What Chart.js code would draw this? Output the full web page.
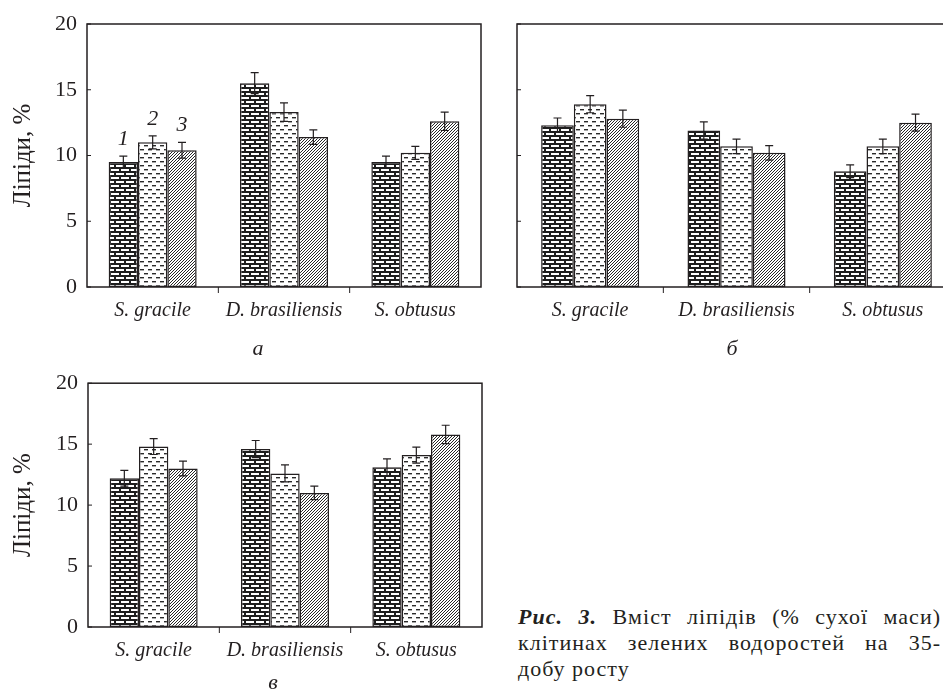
<!DOCTYPE html>
<html>
<head>
<meta charset="utf-8">
<script src="https://cdn.jsdelivr.net/npm/chart.js@4/dist/chart.umd.min.js"></script>
<style>
  body { margin: 0; width: 943px; height: 689px; overflow: hidden; background: #fff; position: relative;
         font-family: "Liberation Serif", "DejaVu Serif", serif; color: #231f20; }
  canvas { position: absolute; }
  .lbl { position: absolute; font-style: italic; font-size: 22px; transform: translate(-50%, -50%); }
  #caption { position: absolute; left: 518px; top: 604px; width: 423px; font-size: 22px; line-height: 26px; letter-spacing: 1px; }
  #caption .j { text-align: justify; text-align-last: justify; }
</style>
</head>
<body>
<canvas id="chartA" width="485" height="340" style="left:0;top:0"></canvas>
<canvas id="chartB" width="480" height="340" style="left:480px;top:0"></canvas>
<canvas id="chartC" width="485" height="329" style="left:0;top:360px"></canvas>
<div class="lbl" style="left:258px;top:348px">а</div>
<div class="lbl" style="left:732px;top:348px">б</div>
<div class="lbl" style="left:273px;top:682px">в</div>
<div id="caption">
  <div class="j"><b><i>Рис. 3.</i></b> Вміст ліпідів (% сухої маси)</div>
  <div class="j">клітинах зелених водоростей на 35-</div>
  <div>добу росту</div>
</div>
<script>
const categories = ['S. gracile', 'D. brasiliensis', 'S. obtusus'];
const seriesLabels = ['1', '2', '3'];
const yTitle = 'Ліпіди, %';

// panel а
const a1 = [9.5, 15.5, 9.5];
const a1Err = [0.45, 0.8, 0.45];
const a2 = [11.0, 13.3, 10.2];
const a2Err = [0.5, 0.7, 0.5];
const a3 = [10.4, 11.4, 12.6];
const a3Err = [0.6, 0.55, 0.7];

// panel б
const b1 = [12.3, 11.9, 8.8];
const b1Err = [0.55, 0.65, 0.48];
const b2 = [13.9, 10.7, 10.7];
const b2Err = [0.65, 0.55, 0.55];
const b3 = [12.8, 10.2, 12.5];
const b3Err = [0.65, 0.55, 0.65];

// panel в
const c1 = [12.2, 14.6, 13.1];
const c1Err = [0.65, 0.7, 0.7];
const c2 = [14.8, 12.6, 14.1];
const c2Err = [0.65, 0.7, 0.65];
const c3 = [13.0, 11.0, 15.8];
const c3Err = [0.6, 0.55, 0.75];

const ink = '#231f20';
const serif = '"Liberation Serif", "DejaVu Serif", serif';

// fill patterns: bricks, dashes, hatch
function makePattern(w, h, draw) {
  const c = document.createElement('canvas');
  c.width = w; c.height = h;
  const g = c.getContext('2d');
  draw(g);
  return g.createPattern(c, 'repeat');
}
const brick = makePattern(10, 8, g => {
  g.fillStyle = '#1e1e1e';
  g.fillRect(0, 0, 10, 8);
  g.fillStyle = '#fff';
  g.fillRect(1, 1, 8, 2);
  g.fillRect(6, 5, 4, 2);
  g.fillRect(0, 5, 4, 2);
});
const dash = makePattern(8, 8, g => {
  g.fillStyle = '#fff';
  g.fillRect(0, 0, 8, 8);
  g.fillStyle = '#2a2a2a';
  g.fillRect(0, 1, 4, 1.4);
  g.fillRect(4, 5, 4, 1.4);
});
const hatch = makePattern(3, 3, g => {
  g.fillStyle = '#fff';
  g.fillRect(0, 0, 3, 3);
  g.strokeStyle = '#262626';
  g.lineWidth = 1;
  g.beginPath();
  g.moveTo(-1, 4); g.lineTo(4, -1);
  g.moveTo(-1, 1); g.lineTo(1, -1);
  g.moveTo(2, 4); g.lineTo(4, 2);
  g.stroke();
});
const fills = [brick, dash, hatch];

const framePlugin = {
  id: 'frame',
  afterDatasetsDraw(chart, args, opts) {
    const ctx = chart.ctx;
    const area = chart.chartArea;
    const y = chart.scales.y;
    ctx.save();
    ctx.strokeStyle = ink;
    ctx.fillStyle = ink;
    // error bars
    chart.data.datasets.forEach((ds, i) => {
      const meta = chart.getDatasetMeta(i);
      meta.data.forEach((bar, j) => {
        const top = y.getPixelForValue(ds.data[j] + ds.errors[j]);
        const bot = y.getPixelForValue(ds.data[j] - ds.errors[j]);
        ctx.lineWidth = 1.2;
        ctx.beginPath();
        ctx.moveTo(bar.x, top); ctx.lineTo(bar.x, bot);
        ctx.moveTo(bar.x - 4, top); ctx.lineTo(bar.x + 4, top);
        ctx.moveTo(bar.x - 4, bot); ctx.lineTo(bar.x + 4, bot);
        ctx.stroke();
        if (opts.numbers && j === 0) {
          ctx.font = 'italic 22px ' + serif;
          ctx.textAlign = 'center';
          ctx.textBaseline = 'middle';
          ctx.fillText(seriesLabels[i], bar.x, top - 17);
        }
      });
    });
    // box
    ctx.lineWidth = 1.5;
    ctx.strokeRect(area.left, area.top, area.right - area.left, area.bottom - area.top);
    // inner y ticks
    ctx.lineWidth = 1;
    y.ticks.forEach(t => {
      const py = y.getPixelForValue(t.value);
      ctx.beginPath();
      ctx.moveTo(area.left, py); ctx.lineTo(area.left + 4, py);
      ctx.stroke();
    });
    // outer ticks between categories
    const w = (area.right - area.left) / categories.length;
    for (let k = 1; k < categories.length; k++) {
      const px = area.left + k * w;
      ctx.beginPath();
      ctx.moveTo(px, area.bottom); ctx.lineTo(px, area.bottom + 6);
      ctx.stroke();
    }
    ctx.restore();
  }
};

function makeChart(id, series, errs, o) {
  new Chart(document.getElementById(id), {
    type: 'bar',
    data: {
      labels: categories,
      datasets: series.map((d, i) => ({
        label: seriesLabels[i],
        data: d,
        errors: errs[i],
        backgroundColor: fills[i],
        borderColor: ink,
        borderWidth: 1.5,
        borderSkipped: false,
        categoryPercentage: 0.67,
        barPercentage: 1.0
      }))
    },
    options: {
      responsive: false,
      animation: false,
      layout: { padding: { top: o.top, right: o.right, bottom: o.bottom, left: 0 } },
      plugins: { legend: { display: false }, tooltip: { enabled: false }, frame: { numbers: o.numbers } },
      scales: {
        x: {
          grid: { display: false, drawTicks: false },
          border: { display: false },
          ticks: { color: ink, padding: 12, font: { family: serif, size: 20, style: 'italic' } },
          afterFit: s => { s.height = 40; }
        },
        y: {
          min: 0, max: 20,
          grid: { display: false, drawTicks: false },
          border: { display: false },
          ticks: { display: o.yLabels, stepSize: 5, color: ink, padding: 10, font: { family: serif, size: 22 } },
          title: { display: o.yLabels, text: yTitle, color: ink, padding: { top: 8, bottom: 0 },
                   font: { family: serif, size: 25 } },
          afterFit: s => { s.width = o.left; }
        }
      }
    },
    plugins: [framePlugin]
  });
}

makeChart('chartA', [a1, a2, a3], [a1Err, a2Err, a3Err], { top: 24, right: 4, bottom: 13, left: 87, yLabels: true, numbers: true });
makeChart('chartB', [b1, b2, b3], [b1Err, b2Err, b3Err], { top: 24, right: 4, bottom: 13, left: 37, yLabels: false, numbers: false });
makeChart('chartC', [c1, c2, c3], [c1Err, c2Err, c3Err], { top: 21, right: 3, bottom: 22, left: 88, yLabels: true, numbers: false });
</script>
</body>
</html>
